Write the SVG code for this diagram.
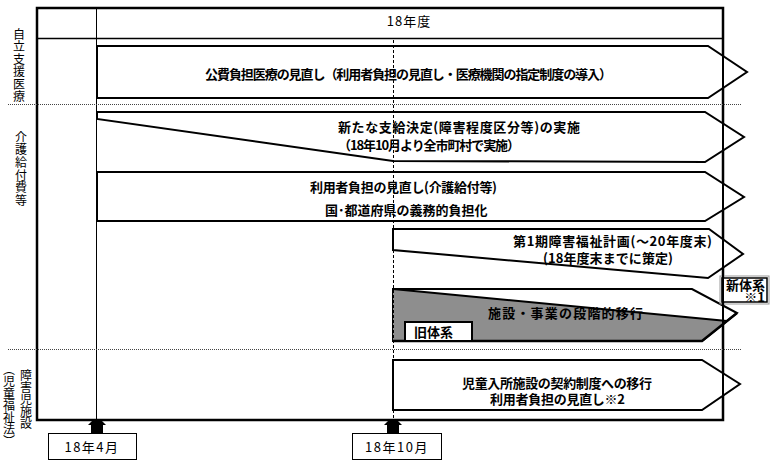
<svg xmlns="http://www.w3.org/2000/svg" width="773" height="462" viewBox="0 0 773 462">
<style>
.t{font-family:"Noto Sans CJK JP","Noto Sans",sans-serif;font-size:13px;font-weight:bold;fill:#000}
.n{font-weight:normal}
.v{font-family:"Noto Sans CJK JP","Noto Sans",sans-serif;font-size:12px;fill:#000;writing-mode:vertical-rl}
.ar{fill:#fff;stroke:#000;stroke-width:2;stroke-linejoin:miter}
.dot{stroke:#444;stroke-width:1;stroke-dasharray:1,1;fill:none}
.box{fill:#fff;stroke:#000;stroke-width:1}
</style>
<rect width="773" height="462" fill="#fff"/>
<g id="frame">
<rect x="37" y="8" width="686" height="412" fill="none" stroke="#000" stroke-width="2.5"/>
<line x1="36" y1="38.5" x2="723" y2="38.5" stroke="#000" stroke-width="1.5"/>
</g>
<g id="labels-left">
<text class="v" x="19" y="28" letter-spacing="0.5">自立支援医療</text>
<text class="v" x="21" y="131" letter-spacing="0.7">介護給付費等</text>
<text class="v" x="26" y="369" font-size="11px" letter-spacing="0.2">障害児施設</text>
<text class="v" x="9" y="363" font-size="11px" letter-spacing="0">（児童福祉法）</text>
</g>
<text class="t n" x="409" y="26" text-anchor="middle" font-size="14px" letter-spacing="1">18年度</text>
<g id="n1">
<polygon class="ar" points="97,46 708,46 747,72 708,98 97,98"/>
<text class="t" x="205" y="79" font-size="12px" textLength="407" lengthAdjust="spacing">公費負担医療の見直し（利用者負担の見直し・医療機関の指定制度の導入）</text>
</g>
<g id="n2">
<polygon class="ar" points="97,112 705,112 744,137 705,162 393,161 97,119"/>
<text class="t" x="338" y="132" textLength="242" lengthAdjust="spacing">新たな支給決定(障害程度区分等)の実施</text>
<text class="t" x="338" y="150" textLength="182" lengthAdjust="spacing">（18年10月より全市町村で実施）</text>
</g>
<g id="n3">
<polygon class="ar" points="97,172 705,172 744,197 705,221 97,221"/>
<text class="t" x="310" y="192" textLength="187" lengthAdjust="spacing">利用者負担の見直し(介護給付等)</text>
<text class="t" x="325" y="215" font-size="12px">国･都道府県の義務的負担化</text>
</g>
<g id="n4">
<polygon class="ar" points="393,229 709,229 743,254 708,278 393,250"/>
<text class="t" x="513" y="246" textLength="199" lengthAdjust="spacing">第1期障害福祉計画(～20年度末)</text>
<text class="t" x="543" y="263" textLength="130" lengthAdjust="spacing">(18年度末までに策定)</text>
</g>
<g id="n5">
<polygon class="ar" points="393,289 692,289 737,313 702,341 393,341"/>
<polygon points="393,289 727,321 702,341 393,341" fill="#8e8e8e"/>
<line x1="393" y1="289" x2="727" y2="321" stroke="#000" stroke-width="2"/>
<polyline points="737,313 702,341 393,341" fill="none" stroke="#000" stroke-width="2.5"/>
<text class="t" x="488" y="318" font-size="14.5px" textLength="155" lengthAdjust="spacing">施設・事業の段階的移行</text>
</g>
<g id="old">
<rect x="405" y="322" width="67" height="19" fill="#fff" stroke="#000" stroke-width="2"/>
<text class="t" x="414" y="337">旧体系</text>
</g>
<g id="n6">
<polygon class="ar" points="393,360 702,360 740,384 702,410 393,410"/>
<text class="t" x="462" y="388" textLength="190" lengthAdjust="spacing">児童入所施設の契約制度への移行</text>
<text class="t" x="490" y="404" textLength="135" lengthAdjust="spacing">利用者負担の見直し※2</text>
</g>
<g id="new">
<rect x="720" y="276" width="49" height="28" fill="none" stroke="#999" stroke-width="1"/>
<rect x="722" y="278" width="45" height="24" fill="#fff" stroke="#000" stroke-width="1.5"/>
<text class="t" x="765" y="290" text-anchor="end" font-size="11.5px">新体系</text>
<text class="t" x="765" y="302" text-anchor="end" font-size="10px">※1</text>
</g>
<g id="connectors">
<line x1="96.5" y1="8" x2="96.5" y2="420" stroke="#000" stroke-width="1"/>
<line x1="393.5" y1="40" x2="393.5" y2="420" stroke="#000" stroke-width="1" stroke-dasharray="3,2"/>
<line x1="723" y1="8" x2="723" y2="420" stroke="#000" stroke-width="2"/>
<line class="dot" x1="8" y1="104.5" x2="742" y2="104.5"/>
<line class="dot" x1="8" y1="349.5" x2="742" y2="349.5"/>
<polygon points="92,421 102,421 106,425 103,425 103,433 91,433 91,425 88,425" fill="#000"/>
<polygon points="388,421 398,421 402,425 399,425 399,433 387,433 387,425 384,425" fill="#000"/>
</g>
<g id="d1">
<rect class="box" x="48.5" y="433.5" width="88" height="26"/>
<text class="t n" x="92" y="452" text-anchor="middle" font-size="14px" letter-spacing="1.5">18年4月</text>
</g>
<g id="d2">
<rect class="box" x="352.5" y="433.5" width="89" height="26"/>
<text class="t n" x="397" y="452" text-anchor="middle" font-size="14px" letter-spacing="1.5">18年10月</text>
</g>
</svg>
